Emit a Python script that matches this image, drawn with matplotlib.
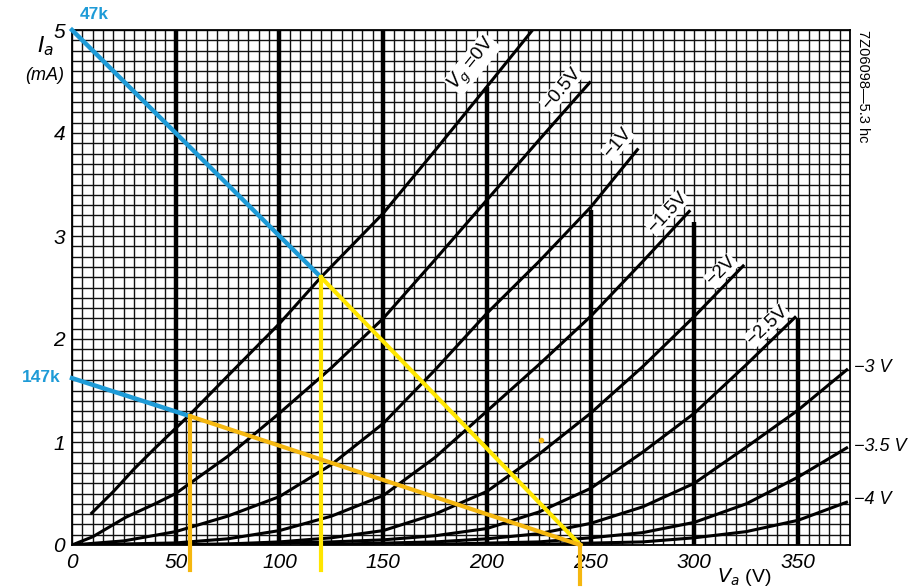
import matplotlib
matplotlib.use("Agg")
import matplotlib.pyplot as plt
import numpy as np

plt.rcParams['font.family'] = ['Liberation Sans', 'DejaVu Sans']
plt.rcParams['mathtext.fontset'] = 'dejavusans'

# anode characteristics (Va in V, Ia in mA)
curves = {
    '0': ([9, 20, 30, 40, 56, 75, 100, 120, 150, 175, 200, 222],
          [0.30, 0.52, 0.74, 0.94, 1.25, 1.64, 2.15, 2.60, 3.22, 3.83, 4.45, 5.0]),
    '-0.5': ([0, 10, 26, 40, 50, 75, 100, 125, 150, 175, 200, 225, 250],
             [0, 0.08, 0.27, 0.40, 0.50, 0.86, 1.28, 1.72, 2.2, 2.77, 3.35, 3.93, 4.5]),
    '-1': ([0, 25, 50, 75, 100, 125, 150, 175, 200, 225, 250, 273],
           [0, 0.04, 0.13, 0.28, 0.47, 0.78, 1.18, 1.70, 2.25, 2.75, 3.28, 3.85]),
    '-1.5': ([0, 50, 75, 100, 125, 150, 175, 200, 225, 250, 275, 298],
             [0, 0.02, 0.06, 0.14, 0.28, 0.48, 0.85, 1.3, 1.75, 2.22, 2.75, 3.25]),
    '-2': ([20, 75, 100, 125, 150, 175, 200, 225, 250, 275, 300, 324],
           [0, 0.01, 0.03, 0.07, 0.14, 0.3, 0.52, 0.88, 1.28, 1.73, 2.22, 2.72]),
    '-2.5': ([60, 125, 150, 175, 200, 225, 250, 275, 300, 325, 349],
             [0, 0.03, 0.05, 0.09, 0.16, 0.32, 0.55, 0.9, 1.28, 1.75, 2.22]),
    '-3': ([110, 175, 200, 225, 250, 275, 300, 325, 350, 374],
           [0, 0.03, 0.06, 0.11, 0.21, 0.37, 0.6, 0.95, 1.31, 1.71]),
    '-3.5': ([160, 225, 250, 275, 300, 325, 350, 374],
             [0, 0.03, 0.07, 0.12, 0.22, 0.4, 0.66, 0.95]),
    '-4': ([210, 275, 300, 325, 350, 374],
           [0, 0.03, 0.07, 0.13, 0.24, 0.42]),
}

# inline curve labels: text, Va, Ia, angle
inline_labels = [
    ('$V_g$ =0V', 193, 4.67, 51),
    ('\u22120.5V', 236, 4.43, 50),
    ('\u22121V', 263, 3.90, 50),
    ('\u22121.5V', 287, 3.23, 47),
    ('\u22122V', 313, 2.66, 45),
    ('\u22122.5V', 335, 2.13, 43),
]
right_labels = [('\u22123 V', 1.72), ('\u22123.5 V', 0.96), ('\u22124 V', 0.44)]

# heavy verticals and where they stop
heavy_v = [50, 100, 150, 200, 250, 300, 350]
heavy_top = [5, 5, 5, 4.45, 3.25, 3.14, 2.2]

x_ticks = [0, 50, 100, 150, 200, 250, 300, 350]
y_ticks = [0, 1, 2, 3, 4, 5]

# load lines (supply 245 V)
load47_v = [0, 120, 245]
load47_i = [5.0, 2.6, 0]
load147_v = [0, 57, 245]
load147_i = [1.62, 1.25, 0]
dot_v, dot_i = 226, 1.02

blue = '#1e9bd7'
yellow = '#ffe600'
orange = '#f5b70f'

fig = plt.figure(figsize=(9.23, 5.88), dpi=100)
ax = fig.add_axes([72 / 923, 43 / 588, 778 / 923, 515 / 588])
ax.set_xlim(0, 375)
ax.set_ylim(0, 5)

ax.set_xticks(x_ticks)
ax.set_yticks(y_ticks)
ax.set_xticks(np.arange(0, 376, 5), minor=True)
ax.set_yticks(np.arange(0, 5.01, 0.1), minor=True)
ax.grid(which='both', color='#111111', lw=1.0)
ax.set_axisbelow(True)
ax.tick_params(which='both', length=0)
ax.tick_params(axis='x', pad=6, labelsize=15)
ax.tick_params(axis='y', pad=5, labelsize=15)
for lab in ax.get_xticklabels() + ax.get_yticklabels():
    lab.set_style('italic')
for s in ax.spines.values():
    s.set_linewidth(1.3)

ax.vlines(heavy_v, 0, heavy_top, color='k', lw=3.2, zorder=2)

for name, (v, i) in curves.items():
    ax.plot(v, i, color='k', lw=2.2, zorder=3, solid_capstyle='butt')

for txt, v, i, rot in inline_labels:
    ax.text(v, i, txt, rotation=rot, ha='center', va='center', fontsize=13.5,
            zorder=4, bbox=dict(facecolor='white', edgecolor='none', pad=0.3))

for txt, i in right_labels:
    ax.text(377, i, txt, ha='left', va='center', fontsize=13, style='italic',
            clip_on=False)

ax.text(378, 5.0, '7Z06098\u20145.3 hc', rotation=270, ha='left', va='top',
        fontsize=10.5, clip_on=False)

ax.text(-13, 4.84, '$I_a$', ha='center', va='center', fontsize=16, clip_on=False)
ax.text(-13, 4.56, '(mA)', ha='center', va='center', fontsize=13,
        style='italic', clip_on=False)
ax.text(324, -0.31, '$V_a$ (V)', ha='center', va='center', fontsize=14,
        clip_on=False)

# load lines
ax.plot(load47_v[:2], load47_i[:2], color=blue, lw=3.2, zorder=6, clip_on=False)
ax.plot(load47_v[1:], load47_i[1:], color=yellow, lw=3, zorder=6, clip_on=False)
ax.plot(load147_v[:2], load147_i[:2], color=blue, lw=3.2, zorder=6, clip_on=False)
ax.plot(load147_v[1:], load147_i[1:], color=orange, lw=3, zorder=7, clip_on=False)
ax.plot([load47_v[1]] * 2, [load47_i[1], -0.24], color=yellow, lw=3, zorder=6,
        clip_on=False)
ax.plot([load147_v[1]] * 2, [load147_i[1], -0.24], color=orange, lw=3, zorder=7,
        clip_on=False)
ax.plot([load147_v[2]] * 2, [0, -0.38], color=orange, lw=3, zorder=7, clip_on=False)
ax.plot(dot_v, dot_i, 'o', ms=3, color=orange, zorder=7)

ax.text(10.6, 5.15, '47k', color=blue, fontsize=12.5, fontweight='bold',
        ha='center', va='center', clip_on=False)
ax.text(-15, 1.63, '147k', color=blue, fontsize=12.5, fontweight='bold',
        ha='center', va='center', clip_on=False)

fig.savefig('out.png', dpi=100)
